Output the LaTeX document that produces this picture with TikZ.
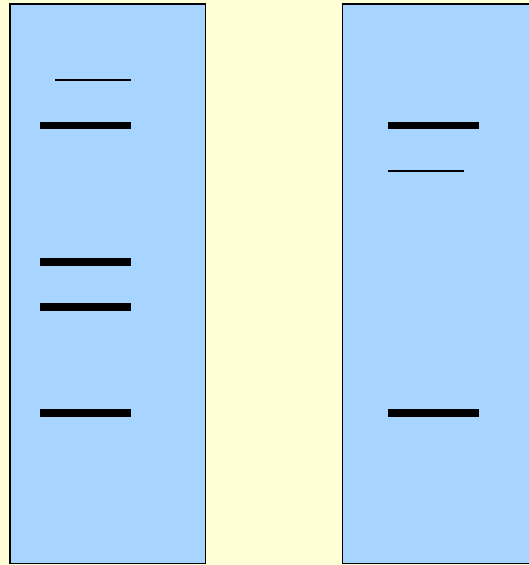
\documentclass[tikz,border=0pt]{standalone}
\definecolor{bgyellow}{HTML}{FFFFD5}
\definecolor{gelblue}{HTML}{A8D5FF}
\tikzset{
  lane/.style={fill=gelblue,draw=black,line width=1.6pt},
  thickband/.style={line width=7.5pt,draw=black},
  thinband/.style={line width=2pt,draw=black}
}
\begin{document}
\begin{tikzpicture}[x=1pt,y=-1pt]
\useasboundingbox (0,0) rectangle (529,565);
\clip (0,0) rectangle (529,565);
\fill[bgyellow] (0,0) rectangle (529,565);
\draw[lane] (10,4) rectangle (205.5,563.5);
\draw[lane] (342.5,4) rectangle (545,563.5);
% left lane bands
\draw[thinband] (55,80) -- (130.5,80);
\draw[thickband] (40,125.5) -- (130.5,125.5);
\draw[thickband] (40,262) -- (130.5,262);
\draw[thickband] (40,307) -- (130.5,307);
\draw[thickband] (40,413) -- (130.5,413);
% right lane bands
\draw[thickband] (388,125.5) -- (478.5,125.5);
\draw[thinband] (388,171) -- (463.5,171);
\draw[thickband] (388,413) -- (478.5,413);
\end{tikzpicture}
\end{document}
